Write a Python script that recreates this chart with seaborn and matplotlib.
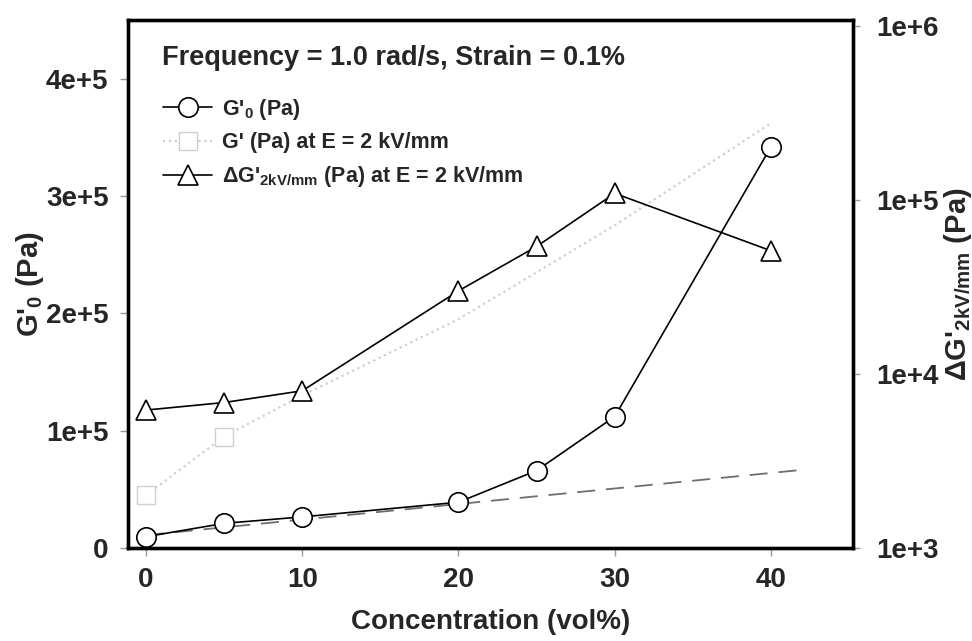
import matplotlib
matplotlib.use('Agg')
import matplotlib.pyplot as plt
from matplotlib.ticker import FixedLocator, FixedFormatter, NullLocator
import seaborn as sns

# values
conc = [0, 5, 10, 20, 25, 30, 40]
g0 = [9.6e3, 2.1e4, 2.65e4, 3.9e4, 6.6e4, 1.12e5, 3.42e5]            # G'0 (left axis)
g_field = [4.5e4, 9.5e4, 1.3e5, 1.95e5, 2.35e5, 2.75e5, 3.62e5]      # G' at E = 2 kV/mm (faint)
delta_g = [6.2e3, 6.85e3, 8.0e3, 3.0e4, 5.4e4, 1.09e5, 5.1e4]        # dG' (right, log)
fit_x = [0, 42.3]
fit_y = [1.1e4, 6.7e4]

x_ticks = [0, 10, 20, 30, 40]
left_ticks = [0, 1e5, 2e5, 3e5, 4e5]
left_labels = ['0', '1e+5', '2e+5', '3e+5', '4e+5']
right_ticks = [1e3, 1e4, 1e5, 1e6]
right_labels = ['1e+3', '1e+4', '1e+5', '1e+6']

sns.set_theme(style='white')
plt.rcParams['font.family'] = ['Liberation Sans', 'DejaVu Sans']
plt.rcParams['font.weight'] = 'bold'
plt.rcParams['axes.labelweight'] = 'bold'
plt.rcParams['mathtext.fontset'] = 'custom'
plt.rcParams['mathtext.rm'] = 'Liberation Sans:bold'
plt.rcParams['mathtext.it'] = 'Liberation Sans:bold'
plt.rcParams['mathtext.bf'] = 'Liberation Sans:bold'
plt.rcParams['mathtext.default'] = 'rm'

fig = plt.figure(figsize=(9.72, 6.41), dpi=100)
ax = fig.add_axes([0.1317, 0.1451, 0.7459, 0.8237])
ax2 = ax.twinx()
ax2.set_yscale('log')

# linear fit at low concentration
sns.lineplot(x=fit_x, y=fit_y, ax=ax, color='#6e6e6e', lw=1.3, zorder=2)
ax.lines[-1].set_dashes((10, 6))

# faint G' at 2 kV/mm
sns.lineplot(x=conc, y=g_field, ax=ax, color='#cfcfcf', lw=1.6, linestyle=':', marker='s',
             ms=13, mfc='white', mec='#cfcfcf', mew=1.0, markevery=[0, 1], zorder=2)
h_sq = ax.lines[-1]

# G'0
sns.lineplot(x=conc, y=g0, ax=ax, color='black', lw=1.2, marker='o', ms=14,
             mfc='white', mec='black', mew=1.2, zorder=3)
h_circ = ax.lines[-1]

# delta G' on log axis
sns.lineplot(x=conc, y=delta_g, ax=ax2, color='black', lw=1.2, marker='^', ms=15,
             mfc='white', mec='black', mew=1.2, zorder=3)
h_tri = ax2.lines[-1]

ax.set_xlim(-1.15, 45.25)
ax.set_ylim(0, 4.5e5)
ax2.set_ylim(1e3, 1.08e6)

ax.set_xticks(x_ticks)
ax.set_xticklabels([str(t) for t in x_ticks])
ax.yaxis.set_major_locator(FixedLocator(left_ticks))
ax.yaxis.set_major_formatter(FixedFormatter(left_labels))
ax2.yaxis.set_major_locator(FixedLocator(right_ticks))
ax2.yaxis.set_major_formatter(FixedFormatter(right_labels))
ax2.yaxis.set_minor_locator(NullLocator())

ax.tick_params(axis='both', direction='out', length=6, width=1, color='#9a9a9a',
               pad=8, labelsize=20, bottom=True, left=True)
ax2.tick_params(axis='y', direction='out', length=5, width=1, color='#9a9a9a',
                pad=12, labelsize=20, right=True)

for a in (ax, ax2):
    for s in a.spines.values():
        s.set_linewidth(2.4)
        s.set_color('black')

ax.set_xlabel('Concentration (vol%)', fontsize=20, labelpad=11)
ax.set_ylabel("G'$_0$ (Pa)", fontsize=21, labelpad=0)
ax2.set_ylabel("\u0394G'$_{2kV/mm}$ (Pa)", fontsize=21, labelpad=2)

ax.text(0.047, 0.928, 'Frequency = 1.0 rad/s, Strain = 0.1%', transform=ax.transAxes,
        fontsize=19.5, fontweight='bold', va='center', ha='left')

ax2.legend([h_circ, h_sq, h_tri],
           ["G'$_0$ (Pa)", "G' (Pa) at E = 2 kV/mm", "\u0394G'$_{2kV/mm}$ (Pa) at E = 2 kV/mm"],
           loc='upper left', bbox_to_anchor=(0.048, 0.855), frameon=False,
           fontsize=15.5, handlelength=2.3, handletextpad=0.45, labelspacing=0.5,
           borderpad=0, borderaxespad=0)

fig.savefig('out.png', dpi=100)
